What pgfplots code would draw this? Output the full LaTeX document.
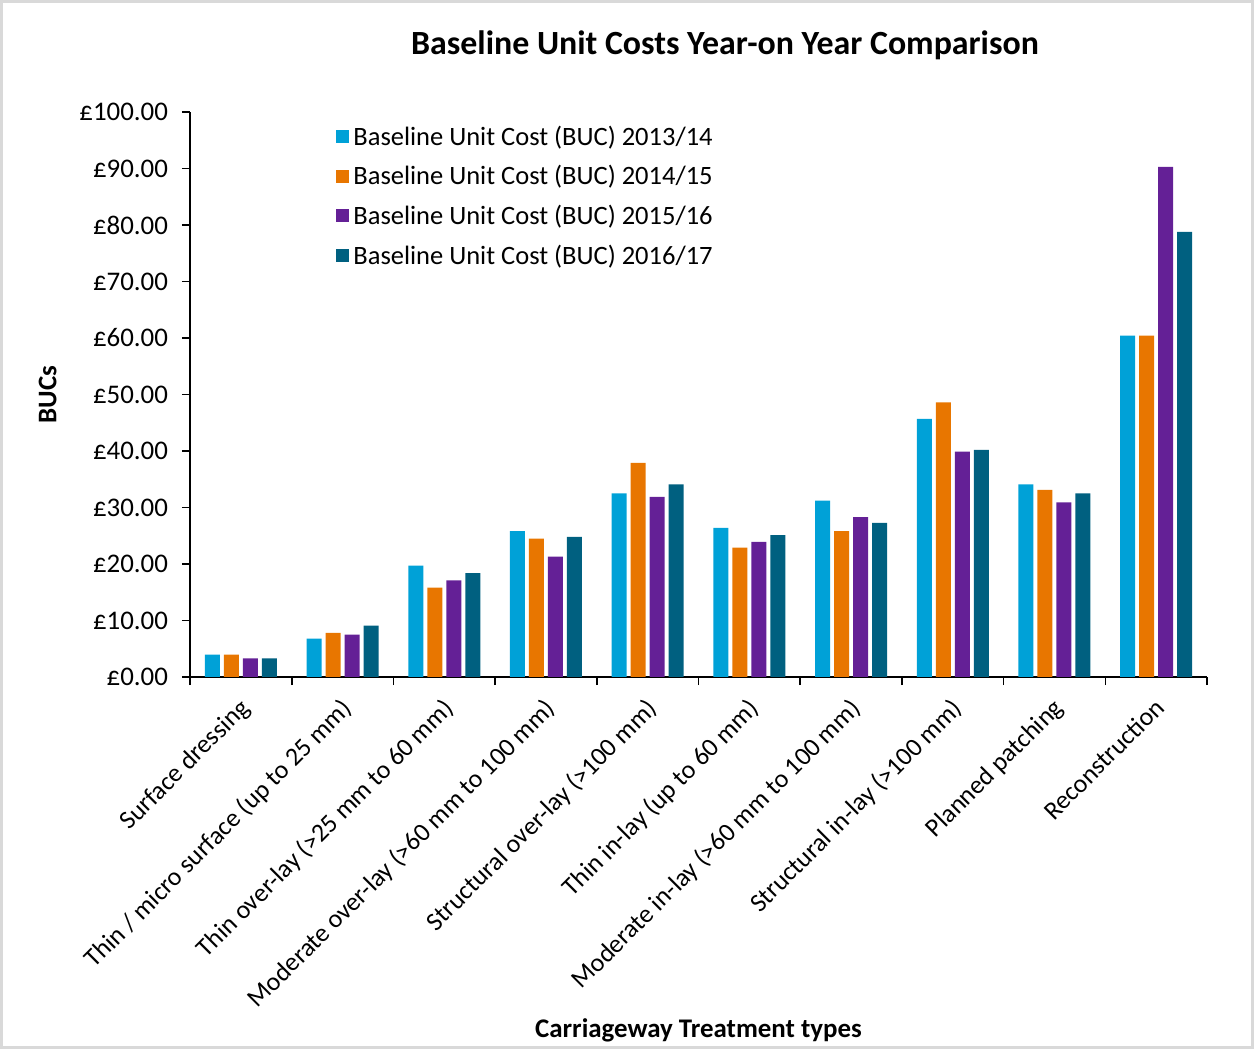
\documentclass[border=0pt]{standalone}
\usepackage{fontspec}
\setmainfont{Carlito}
\usepackage{pgfplots}
\pgfplotsset{compat=1.18}
\definecolor{c1}{RGB}{0,161,215}
\definecolor{c2}{RGB}{232,118,0}
\definecolor{c3}{RGB}{100,32,150}
\definecolor{c4}{RGB}{0,96,128}
\begin{document}
\begin{tikzpicture}
\draw[gray!30, line width=1.5bp] (0.75bp,0.75bp) rectangle (626.25bp,523.75bp);
\node[font=\fontsize{17}{20}\selectfont\bfseries] at (362.5bp,502bp) {Baseline Unit Costs Year-on Year Comparison};
\begin{axis}[
  at={(95bp,186bp)}, anchor=south west,
  scale only axis, width=508.5bp, height=282.5bp,
  ybar=2bp, bar width=7.5bp,
  xmin=-0.5, xmax=9.5, ymin=0, ymax=100,
  ytick={0,10,...,100},
  xtick={0,...,9},
  xticklabels={Surface dressing, Thin / micro surface (up to 25 mm), Thin over-lay (>25 mm to 60 mm), Moderate over-lay (>60 mm to 100 mm), Structural over-lay (>100 mm), Thin in-lay (up to 60 mm), Moderate in-lay (>60 mm to 100 mm), Structural in-lay (>100 mm), Planned patching, Reconstruction},
  minor xtick={-0.5,0.5,...,9.5},
  major x tick style={draw=none},
  tick align=outside,
  tick style={black, line width=0.8bp},
  major tick length=4bp, minor tick length=4bp,
  axis x line*=bottom, axis y line*=left,
  axis line style={black, line width=0.8bp, -},
  /pgf/number format/assume math mode=true,
  yticklabel={£\pgfmathprintnumber[fixed,fixed zerofill,precision=2]{\tick}},
  yticklabel style={font=\fontsize{13.5}{16}\selectfont, xshift=-3.5bp},
  xticklabel style={font=\fontsize{13}{15}\selectfont, rotate=45, anchor=north east, inner sep=2bp, xshift=-3bp, yshift=-1bp},
  ylabel={BUCs},
  ylabel style={at={(axis description cs:-0.14,0.5)}, anchor=center, font=\fontsize{13.5}{16}\selectfont\bfseries},
  xlabel={Carriageway Treatment types},
  xlabel style={at={(axis description cs:0.5,-0.625)}, anchor=center, font=\fontsize{13.5}{16}\selectfont\bfseries},
  legend style={at={(rel axis cs:0.1377,0.99)}, anchor=north west, draw=none, fill=none,
    font=\fontsize{13.3}{16}\selectfont, row sep=4.6bp},
  legend cell align=left,
  every axis plot post/.append style={legend image code/.code={\fill[##1] (0bp,-3bp) rectangle (6.5bp,3.5bp);}},
]
\addplot[fill=c1, draw=none] coordinates {(0,3.95) (1,6.8) (2,19.7) (3,25.8) (4,32.5) (5,26.4) (6,31.2) (7,45.7) (8,34.1) (9,60.4)};
\addplot[fill=c2, draw=none] coordinates {(0,3.95) (1,7.8) (2,15.8) (3,24.5) (4,37.9) (5,22.9) (6,25.8) (7,48.6) (8,33.1) (9,60.4)};
\addplot[fill=c3, draw=none] coordinates {(0,3.3) (1,7.5) (2,17.1) (3,21.3) (4,31.9) (5,23.9) (6,28.3) (7,39.9) (8,30.9) (9,90.3)};
\addplot[fill=c4, draw=none] coordinates {(0,3.3) (1,9.1) (2,18.4) (3,24.8) (4,34.1) (5,25.1) (6,27.3) (7,40.2) (8,32.5) (9,78.8)};
\legend{Baseline Unit Cost (BUC) 2013/14, Baseline Unit Cost (BUC) 2014/15, Baseline Unit Cost (BUC) 2015/16, Baseline Unit Cost (BUC) 2016/17}
\end{axis}
\end{tikzpicture}
\end{document}
